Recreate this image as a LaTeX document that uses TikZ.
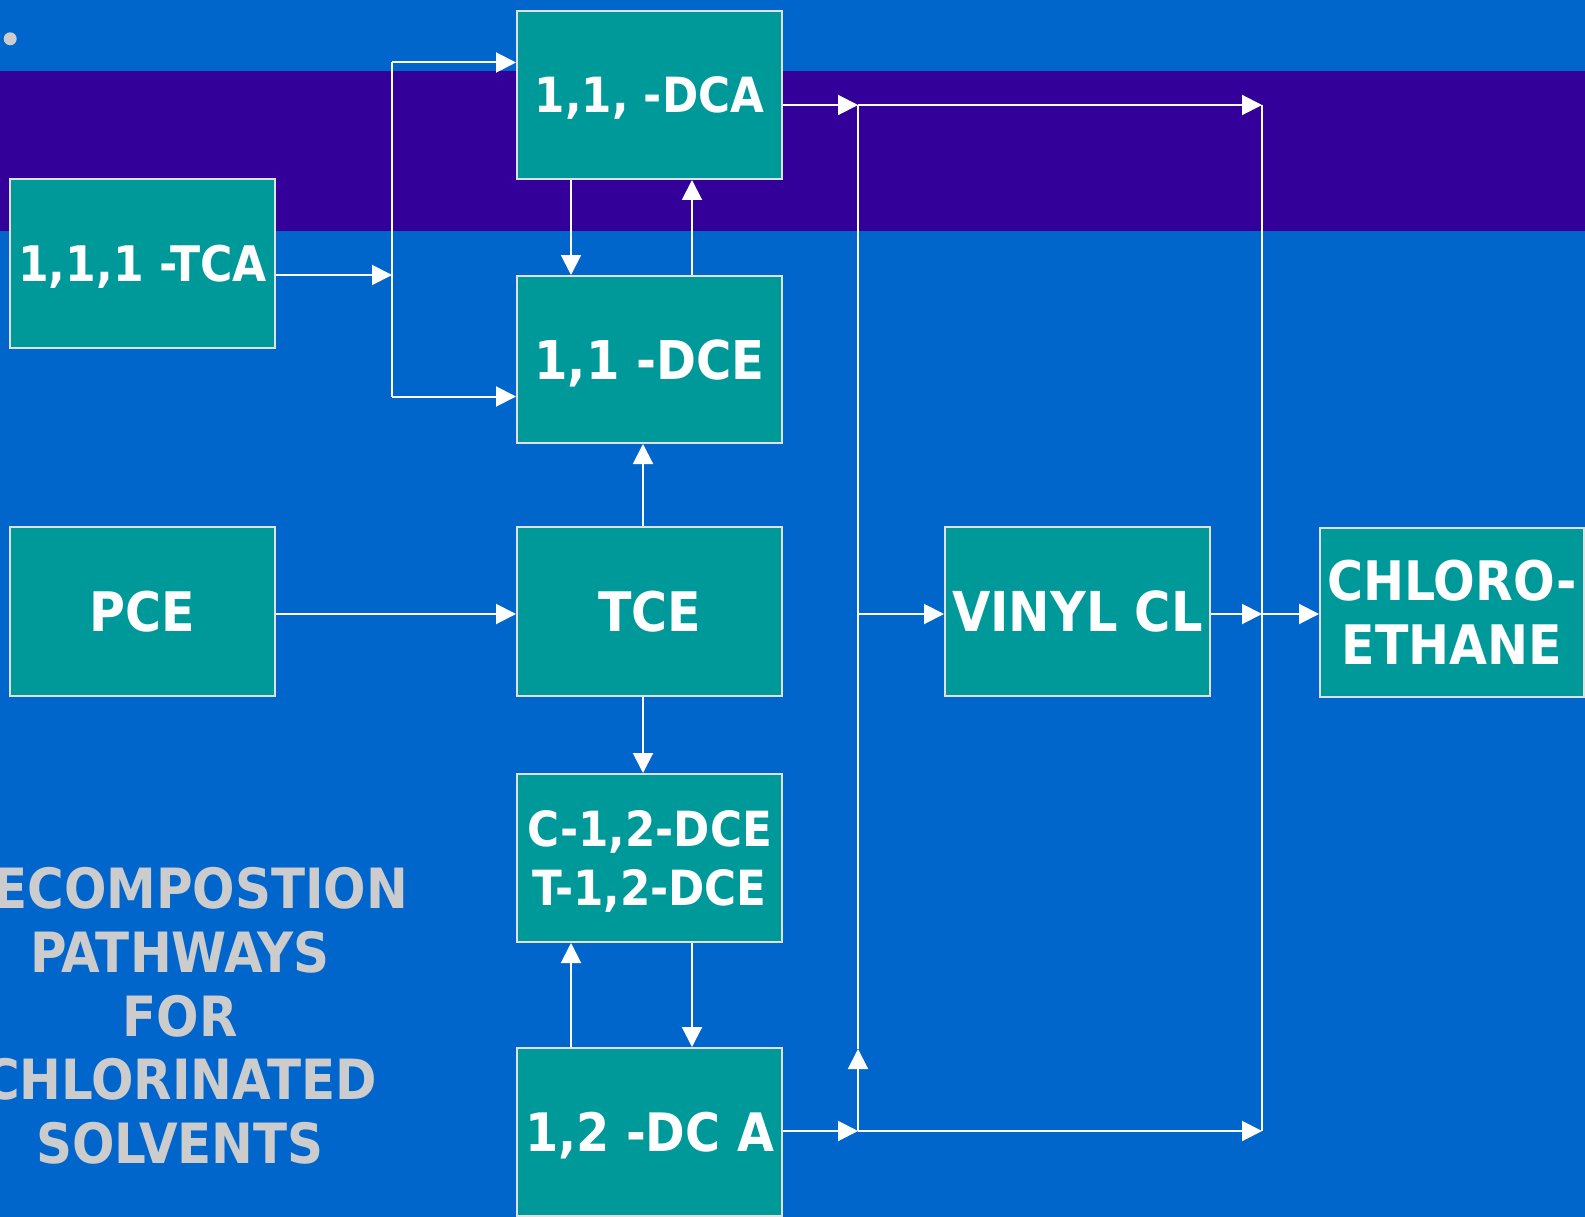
\documentclass[tikz,border=0pt]{standalone}
\usepackage{fontspec}
\setmainfont{DejaVu Sans Condensed}
\usetikzlibrary{arrows.meta}
\definecolor{bgblue}{HTML}{0066CC}
\definecolor{bandpurple}{HTML}{330099}
\definecolor{boxteal}{HTML}{009999}
\definecolor{boxline}{HTML}{E0E0E0}
\definecolor{titlegrey}{HTML}{CCCCCC}
\begin{document}
\begin{tikzpicture}[x=1pt,y=-1pt,
  box/.style={draw=boxline, line width=2pt, fill=boxteal, text=white,
    minimum width=265pt, minimum height=168pt, inner sep=0pt, align=center,
    text depth=0pt},
  fs/.style={font=\fontsize{#1}{58.5}\selectfont\bfseries},
  conn/.style={draw=white, line width=2pt, -{Triangle[length=20pt,width=20pt]}},
  ln/.style={draw=white, line width=2pt}]
\useasboundingbox (0,0) rectangle (1585,1217);
\clip (0,0) rectangle (1585,1217);
\fill[bgblue] (0,0) rectangle (1585,1217);
\fill[bandpurple] (0,71) rectangle (1585,231);
\fill[titlegrey] (10.2,38.8) circle (6.5pt);

\node[box, fs=49, minimum height=169pt] (tca) at (142.5,263.5) {1,1,1 -TCA};
\node[box, fs=48.5] (dca) at (649.5,95) {1,1, -DCA};
\node[box, fs=53.5, minimum height=167pt] (dce) at (649.5,359.5) {1,1 -DCE};
\node[box, fs=54.5, minimum height=169pt] (pce) at (142.5,611.5) {PCE};
\node[box, fs=54.5, minimum height=169pt] (tce) at (649.5,611.5) {TCE};
\node[box, fs=48.5] (cdce) at (649.5,858) {C-1,2-DCE\\T-1,2-DCE};
\node[box, fs=53] (dca12) at (649.5,1132) {1,2 -DC A};
\node[box, fs=55, minimum height=169pt] (vinyl) at (1077.5,611.5) {VINYL CL};
\node[box, minimum width=264pt, minimum height=169pt,
  font=\fontsize{54.5}{64}\selectfont\bfseries] (chloro) at (1452,612.5) {CHLORO-\\ETHANE};

\node[text=titlegrey, align=center, inner sep=0pt,
  font=\fontsize{55.5}{63.75}\selectfont\bfseries] (title) at (180,1016)
  {DECOMPOSTION\\PATHWAYS\\FOR\\CHLORINATED\\SOLVENTS};

\coordinate (j1) at (392,275);
\coordinate (j1top) at (392,62.5);
\coordinate (j1bot) at (392,396.5);
\draw[conn] (tca.east |- j1) -- (j1);
\draw[ln] (j1top) -- (j1bot);
\draw[conn] (j1top) -- (dca.west |- j1top);
\draw[conn] (j1bot) -- (dce.west |- j1bot);

\draw[conn] ([xshift=-78.5pt]dca.south) -- ([xshift=-78.5pt]dce.north);
\draw[conn] ([xshift=42.5pt]dce.north) -- ([xshift=42.5pt]dca.south);
\draw[conn] ([xshift=-6.5pt]tce.north) -- ([xshift=-6.5pt]dce.south);
\draw[conn] (pce.east |- 0,614) -- (tce.west |- 0,614);
\draw[conn] ([xshift=-6.5pt]tce.south) -- ([xshift=-6.5pt]cdce.north);
\draw[conn] ([xshift=-78.5pt]dca12.north) -- ([xshift=-78.5pt]cdce.south);
\draw[conn] ([xshift=42.5pt]cdce.south) -- ([xshift=42.5pt]dca12.north);

\coordinate (a) at (858,105);
\coordinate (b) at (1262,105);
\coordinate (c) at (858,1131);
\coordinate (d) at (1262,1131);
\coordinate (e) at (858,614);
\coordinate (f) at (1262,614);
\coordinate (g) at (858,1049);
\draw[conn] (dca.east |- a) -- (a);
\draw[conn] (a) -- (b);
\draw[ln] (b) -- (d);
\draw[ln] (a) -- (g);
\draw[conn] (dca12.east |- c) -- (c);
\draw[conn] (c) -- (g);
\draw[conn] (c) -- (d);
\draw[conn] (e) -- (vinyl.west |- e);
\draw[conn] (vinyl.east |- f) -- (f);
\draw[conn] (f) -- (chloro.west |- f);
\end{tikzpicture}
\end{document}
